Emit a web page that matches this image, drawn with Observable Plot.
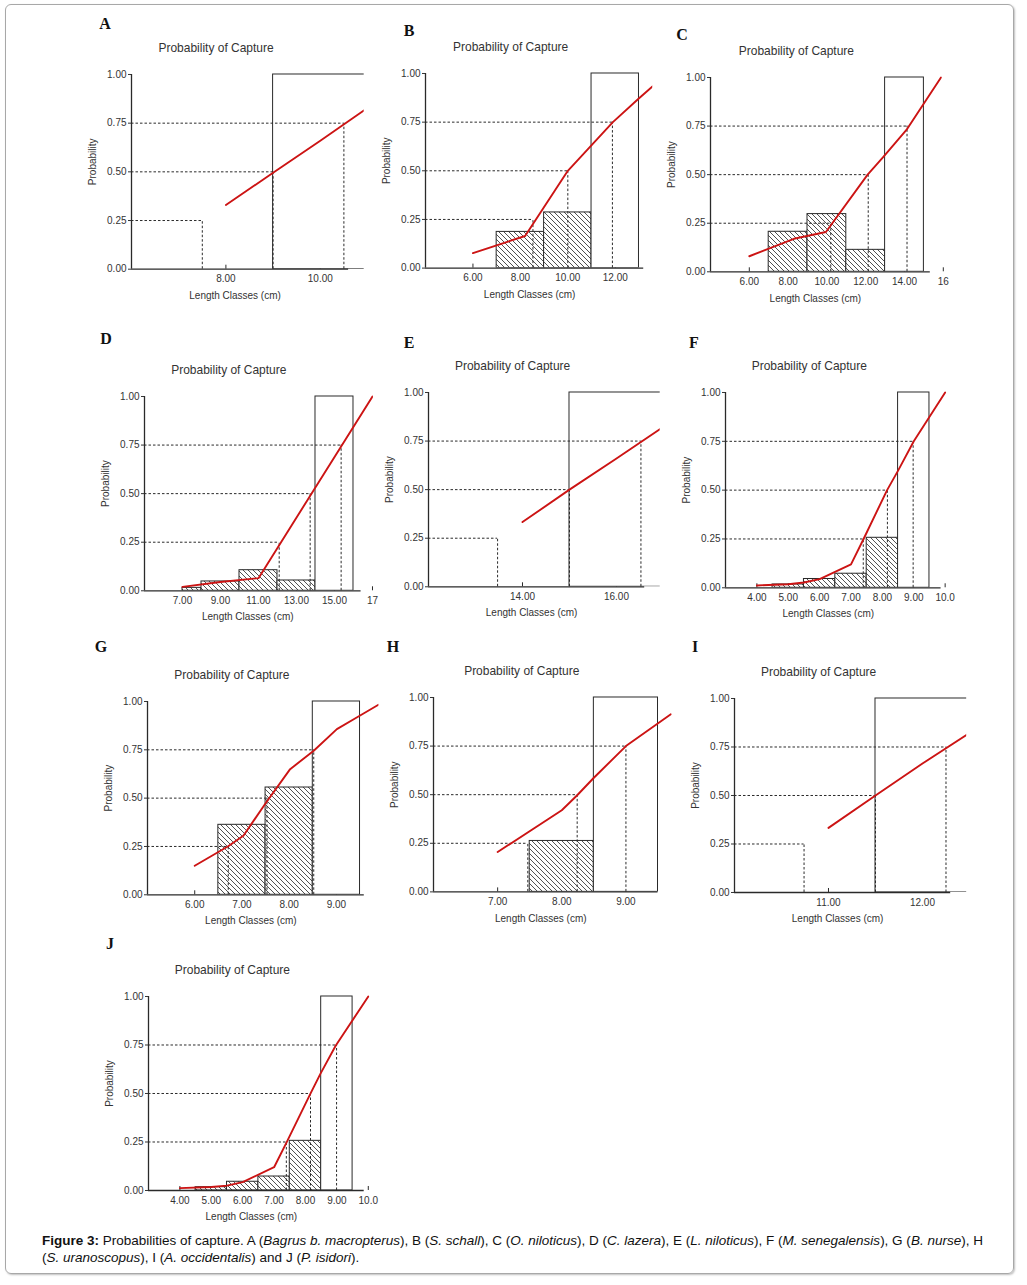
<!DOCTYPE html>
<html><head><meta charset="utf-8">
<script src="https://cdn.jsdelivr.net/npm/d3@7"></script>
<script src="https://cdn.jsdelivr.net/npm/@observablehq/plot@0.6"></script>
<style>
body{margin:0;background:#fff;}
#page{position:relative;width:1027px;height:1285px;overflow:hidden;font-family:"Liberation Sans",Arial,sans-serif;}
.frame{position:absolute;left:5px;top:4px;width:1007px;height:1268px;border:1px solid #a8a8a8;border-radius:6px;box-shadow:1px 1px 2px rgba(0,0,0,.25);}
.panel{position:absolute;}
.panel svg{overflow:visible;}
.letter{position:absolute;font-family:"Liberation Serif","Times New Roman",serif;font-weight:bold;font-size:16px;line-height:16px;transform:translate(-50%,-50%);color:#111;}
.caption{position:absolute;left:42px;top:1232px;font-size:13.5px;line-height:17px;color:#111;white-space:nowrap;}
</style></head>
<body><div id="page"><div class="frame"></div>
<svg width="0" height="0" style="position:absolute"><defs>
<pattern id="hatch" patternUnits="userSpaceOnUse" width="5" height="5">
<rect width="5" height="5" fill="#fff"/>
<path d="M-1,-1L6,6M-1,4L1,6M4,-1L6,1" stroke="#222" stroke-width="0.8"/>
</pattern></defs></svg>
<div class="caption"><b>Figure 3:</b> Probabilities of capture. A (<i>Bagrus b. macropterus</i>), B (<i>S. schall</i>), C (<i>O. niloticus</i>), D (<i>C. lazera</i>), E (<i>L. niloticus</i>), F (<i>M. senegalensis</i>), G (<i>B. nurse</i>), H<br>(<i>S. uranoscopus</i>), I (<i>A. occidentalis</i>) and J (<i>P. isidori</i>).</div>
</div>
<script>
// ---------- data (length in cm, probability 0..1) ----------
const levels = [0.25, 0.5, 0.75];
const probTicks = [0, 0.25, 0.5, 0.75, 1];

// extent: [axis start, axis end, visible end]
const extentA = [6, 10.6, 10.93];
const tickLabelsA = ["8.00", "10.00"];
const barsA = [[9, 11, 1.0]];
const curveA = [[8, 0.33], [9, 0.495], [10, 0.66], [11, 0.828]];
const lengthsA = [7.5, 9.0, 10.5];

const extentB = [4, 13.2, 13.58];
const tickLabelsB = ["6.00", "8.00", "10.00", "12.00"];
const barsB = [[7, 9, 0.186], [9, 11, 0.286], [11, 13, 1.0]];
const curveB = [[6, 0.077], [8.2, 0.165], [10, 0.5], [11.9, 0.75], [12.98, 0.87], [13.58, 0.935]];
const lengthsB = [8.53, 10.0, 11.88];

const extentC = [4, 15.33, 15.95];
const tickLabelsC = ["6.00", "8.00", "10.00", "12.00", "14.00", "16"];
const barsC = [[7, 9, 0.206], [9, 11, 0.297], [11, 13, 0.113], [13, 15, 1.0]];
const curveC = [[6, 0.08], [8.3, 0.17], [9.95, 0.205], [12.1, 0.5], [12.9, 0.59], [14.1, 0.73], [15.88, 1.0]];
const lengthsC = [10.2, 12.13, 14.13];

const extentD = [5, 16.4, 17.05];
const tickLabelsD = ["7.00", "9.00", "11.00", "13.00", "15.00", "17"];
const barsD = [[7, 8, 0.015], [8, 10, 0.048], [10, 12, 0.106], [12, 14, 0.053], [14, 16, 1.0]];
const curveD = [[7, 0.02], [9, 0.045], [11, 0.065], [17, 1.0]];
const lengthsD = [12.09, 13.72, 15.35];

const extentE = [12, 16.6, 16.93];
const tickLabelsE = ["14.00", "16.00"];
const barsE = [[15, 17, 1.0]];
const curveE = [[14, 0.333], [15, 0.5], [16, 0.66], [17, 0.824]];
const lengthsE = [13.47, 15.0, 16.52];

const extentF = [3, 9.87, 10.05];
const tickLabelsF = ["4.00", "5.00", "6.00", "7.00", "8.00", "9.00", "10.0"];
const barsF = [[4.5, 5.5, 0.017], [5.5, 6.5, 0.045], [6.5, 7.5, 0.072], [7.5, 8.5, 0.256], [8.5, 9.5, 1.0]];
const curveF = [[4, 0.012], [5, 0.018], [5.5, 0.027], [6, 0.044], [7, 0.12], [7.4, 0.25], [8.15, 0.5], [8.5, 0.6], [9, 0.75], [10, 1.0]];
const lengthsF = [7.39, 8.16, 8.98];

const extentG = [5, 9.59, 9.9];
const tickLabelsG = ["6.00", "7.00", "8.00", "9.00"];
const barsG = [[6.5, 7.5, 0.362], [7.5, 8.5, 0.555], [8.5, 9.5, 1.0]];
const curveG = [[6, 0.15], [6.7, 0.25], [7.03, 0.305], [7.49, 0.47], [8.02, 0.65], [8.52, 0.745], [9.01, 0.857], [9.43, 0.917], [9.89, 0.983]];
const lengthsG = [6.71, 7.53, 8.52];

const extentH = [6, 9.5, 9.72];
const tickLabelsH = ["7.00", "8.00", "9.00"];
const barsH = [[7.5, 8.5, 0.262], [8.5, 9.5, 1.0]];
const curveH = [[7, 0.205], [8, 0.42], [8.24, 0.497], [8.5, 0.587], [9, 0.75], [9.7, 0.914]];
const lengthsH = [7.47, 8.24, 9.0];

const extentI = [10, 12.3, 12.47];
const tickLabelsI = ["11.00", "12.00"];
const barsI = [[11.5, 12.5, 1.0]];
const curveI = [[11, 0.333], [11.5, 0.5], [12, 0.665], [12.5, 0.822]];
const lengthsI = [10.74, 11.5, 12.25];

const extentJ = [3, 9.87, 10.05];
const tickLabelsJ = ["4.00", "5.00", "6.00", "7.00", "8.00", "9.00", "10.0"];
const barsJ = [[4.5, 5.5, 0.017], [5.5, 6.5, 0.045], [6.5, 7.5, 0.072], [7.5, 8.5, 0.256], [8.5, 9.5, 1.0]];
const curveJ = [[4, 0.012], [5, 0.018], [5.5, 0.025], [6, 0.043], [7, 0.12], [7.41, 0.252], [8.15, 0.497], [8.47, 0.6], [8.96, 0.746], [10, 1.0]];
const lengthsJ = [7.39, 8.16, 8.99];

// ---------- layout (page pixels) ----------
const layout = {
  A: {axisX: 131.3, k: 47.2, yTop: 74.3, yBot: 269, letter: [105, 24]},
  B: {axisX: 425.3, k: 23.72, yTop: 72.7, yBot: 267.3, letter: [409, 31]},
  C: {axisX: 709.5, k: 19.4, yTop: 76.7, yBot: 271, letter: [682, 35]},
  D: {axisX: 144.3, k: 19.0, yTop: 396, yBot: 590.3, letter: [106, 339]},
  E: {axisX: 427.7, k: 47, yTop: 392, yBot: 586.3, letter: [409, 343]},
  F: {axisX: 725.3, k: 31.38, yTop: 392, yBot: 587.3, letter: [694, 343]},
  G: {axisX: 147.1, k: 47.23, yTop: 700.7, yBot: 894, letter: [101, 647]},
  H: {axisX: 432.5, k: 64.15, yTop: 697.3, yBot: 891.7, letter: [393, 647]},
  I: {axisX: 734.3, k: 94, yTop: 698.3, yBot: 892.3, letter: [695, 647]},
  J: {axisX: 147.9, k: 31.4, yTop: 996, yBot: 1190, letter: [110, 944]}
};

const panels = [
  ["A", extentA, tickLabelsA, barsA, curveA, lengthsA],
  ["B", extentB, tickLabelsB, barsB, curveB, lengthsB],
  ["C", extentC, tickLabelsC, barsC, curveC, lengthsC],
  ["D", extentD, tickLabelsD, barsD, curveD, lengthsD],
  ["E", extentE, tickLabelsE, barsE, curveE, lengthsE],
  ["F", extentF, tickLabelsF, barsF, curveF, lengthsF],
  ["G", extentG, tickLabelsG, barsG, curveG, lengthsG],
  ["H", extentH, tickLabelsH, barsH, curveH, lengthsH],
  ["I", extentI, tickLabelsI, barsI, curveI, lengthsI],
  ["J", extentJ, tickLabelsJ, barsJ, curveJ, lengthsJ]
];

const page = document.getElementById("page");
const INK = "#2a2a2a";
const RED = "#cc1414";

for (const [id, extent, tickLabels, bars, curve, lengths] of panels) {
  const lay = layout[id];
  const [x0, xEnd, xClip] = extent;
  const mL = 60, mT = 45, mR = 24, mB = 40;
  const plotW = lay.k * (xClip - x0);
  const plotH = lay.yBot - lay.yTop;
  const width = mL + plotW + mR;
  const height = mT + plotH + mB;
  const ticks = tickLabels.map(Number);
  const labelOf = new Map(ticks.map((t, i) => [t, tickLabels[i]]));
  const barRows = bars.map(([a, b, h]) => ({a, b, h}));
  const curveRows = curve.map(([x, y]) => ({x, y}));
  const lvl = lengths.map((L, i) => ({L, p: levels[i]}));
  const xMid = (x0 + xEnd) / 2;

  const chart = Plot.plot({
    width, height,
    marginLeft: mL, marginTop: mT - 6, marginRight: mR, marginBottom: mB,
    x: {domain: [x0, xClip], range: [mL, mL + plotW]},
    y: {domain: [0, 1], range: [mT + plotH, mT]},
    style: {fontFamily: "'Liberation Sans', Arial, sans-serif", fontSize: "10px", color: "#333", background: "transparent", overflow: "visible"},
    marks: [
      Plot.ruleX(ticks, {x: d => d, y1: 0, y2: 0, insetTop: -4, stroke: INK, strokeWidth: 1}),
      Plot.rect(barRows.filter(d => d.h < 1), {x1: "a", x2: "b", y1: 0, y2: "h", fill: "url(#hatch)", stroke: INK, strokeWidth: 1, clip: true}),
      Plot.rect(barRows.filter(d => d.h >= 1), {x1: "a", x2: "b", y1: 0, y2: "h", fill: "white", stroke: INK, strokeWidth: 1, clip: true}),
      Plot.ruleY(lvl, {y: "p", x1: x0, x2: "L", stroke: INK, strokeWidth: 1, strokeDasharray: "2.5,2"}),
      Plot.ruleX(lvl, {x: "L", y1: 0, y2: "p", stroke: INK, strokeWidth: 1, strokeDasharray: "2.5,2"}),
      Plot.line(curveRows, {x: "x", y: "y", stroke: RED, strokeWidth: 1.9, clip: true}),
      Plot.ruleX([x0], {y1: 0, y2: 1, stroke: INK, strokeWidth: 1.3}),
      Plot.ruleY([0], {x1: x0, x2: xEnd, stroke: INK, strokeWidth: 1.3}),
      Plot.axisY({ticks: probTicks, tickFormat: d3.format(".2f"), tickSize: 3, tickPadding: 2, label: null, anchor: "left"}),
      Plot.axisX({ticks, tickFormat: d => labelOf.get(d), tickSize: 0, tickPadding: 6, label: null, anchor: "bottom"}),
      Plot.text(["Probability of Capture"], {x: xMid, y: 1, text: d => d, dx: -24, dy: -26, fontSize: 12, fill: "#333"}),
      Plot.text(["Probability"], {x: x0, y: 0.5, text: d => d, dx: -39, dy: -10, rotate: -90, fontSize: 10, fill: "#333"}),
      Plot.text(["Length Classes (cm)"], {x: xMid, y: 0, text: d => d, dx: -5, dy: 26.5, fontSize: 10, fill: "#333"})
    ]
  });

  const wrap = document.createElement("div");
  wrap.className = "panel";
  wrap.style.left = (lay.axisX - mL) + "px";
  wrap.style.top = (lay.yTop - mT) + "px";
  wrap.appendChild(chart);
  page.appendChild(wrap);

  const letter = document.createElement("div");
  letter.className = "letter";
  letter.textContent = id;
  letter.style.left = lay.letter[0] + "px";
  letter.style.top = lay.letter[1] + "px";
  page.appendChild(letter);
}
</script>
</body></html>
